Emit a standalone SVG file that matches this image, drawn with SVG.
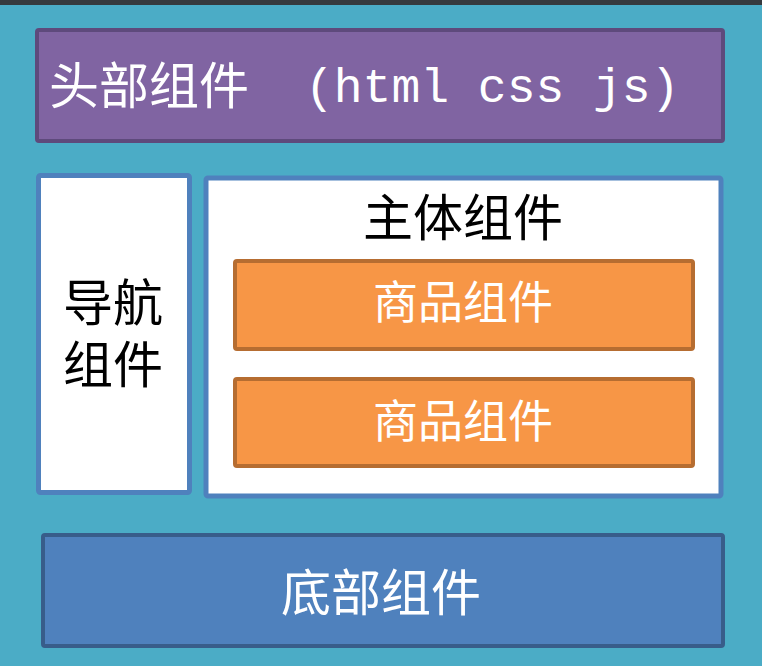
<svg xmlns="http://www.w3.org/2000/svg" width="762" height="666" viewBox="0 0 762 666">
<style>
.cjk{font-family:"Noto Sans CJK SC","Noto Sans",sans-serif;}
.w{fill:#ffffff;}
.k{fill:#000000;}
.mono{font-family:"Liberation Mono","DejaVu Sans Mono",monospace;fill:#ffffff;font-size:48px;}
</style>
<rect x="0" y="0" width="762" height="666" fill="#4bacc6"/>
<rect x="0" y="0" width="762" height="5" fill="#363a3e"/>
<g id="header">
<rect x="37" y="30" width="686" height="111" rx="2" fill="#8064a2" stroke="#5e4a7c" stroke-width="4"/>
<text class="cjk w" x="49" y="104" font-size="50">头部组件</text>
<text class="mono" x="305" y="102">(html css js)</text>
</g>
<g id="nav">
<rect x="38.5" y="175.5" width="151" height="317" rx="2" fill="#ffffff" stroke="#4f81bd" stroke-width="5"/>
<text class="cjk k" font-size="50" text-anchor="middle"><tspan x="113" y="321">导航</tspan><tspan x="113" y="383">组件</tspan></text>
</g>
<g id="main">
<rect x="206" y="178" width="515" height="318" rx="2" fill="#ffffff" stroke="#4f81bd" stroke-width="5"/>
<text class="cjk k" x="463" y="236" font-size="50" text-anchor="middle">主体组件</text>
</g>
<g id="goods1">
<rect x="235" y="261" width="458" height="88" rx="2" fill="#f79646" stroke="#b66d31" stroke-width="4"/>
<text class="cjk w" x="463" y="319" font-size="45" text-anchor="middle">商品组件</text>
</g>
<g id="goods2">
<rect x="235" y="379" width="458" height="87" rx="2" fill="#f79646" stroke="#b66d31" stroke-width="4"/>
<text class="cjk w" x="463" y="438" font-size="45" text-anchor="middle">商品组件</text>
</g>
<g id="footer">
<rect x="43" y="535" width="680" height="111" rx="2" fill="#4f81bd" stroke="#385d8a" stroke-width="4"/>
<text class="cjk w" x="381" y="611" font-size="50" text-anchor="middle">底部组件</text>
</g>
<g id="connectors"></g>
</svg>
